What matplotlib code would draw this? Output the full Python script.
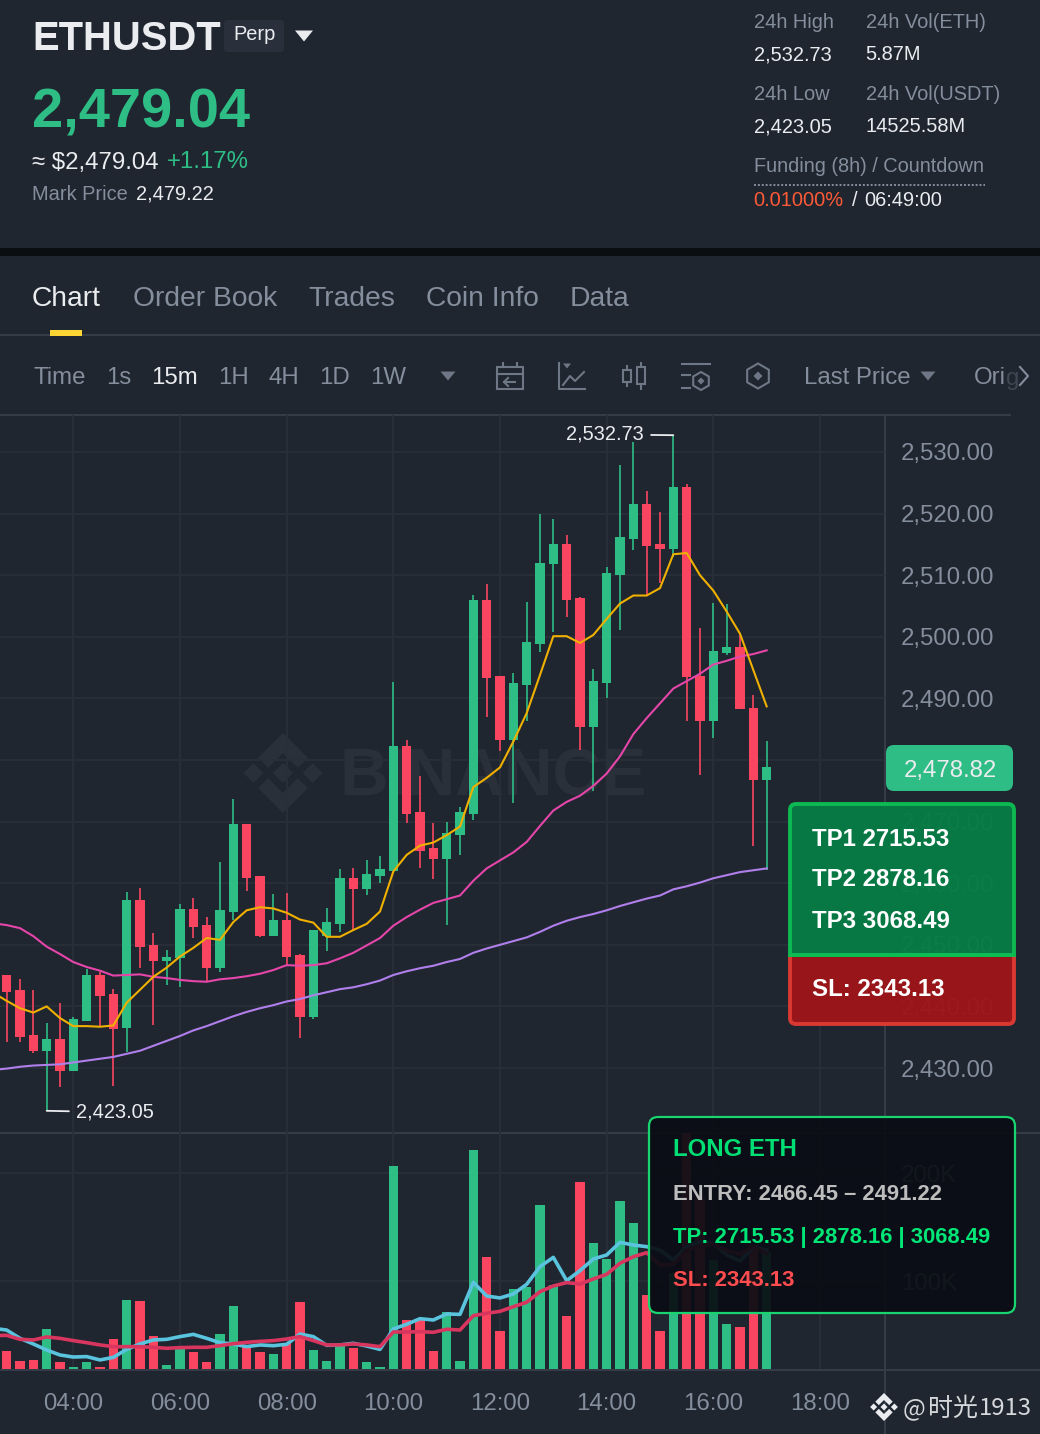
import numpy as np
import matplotlib
matplotlib.use('Agg')
import matplotlib.pyplot as plt
from matplotlib.patches import FancyBboxPatch, Polygon, Rectangle, RegularPolygon

plt.rcParams['font.family'] = ['Liberation Sans', 'DejaVu Sans']

BG = '#1F2630'
GRID = '#282F39'
EDGE = '#363D48'
GREY = '#848E9C'
WHITE = '#EAECEF'
UP = '#2EBD85'
DOWN = '#FA4560'

# 15m candles, first one is 02:45 and 04:00 is index 5
opens = [2445.1, 2442.6, 2435.4, 2432.8, 2434.7, 2429.5, 2437.7, 2445.1, 2442.0, 2436.5,
         2457.2, 2450.0, 2447.3, 2447.8, 2455.8, 2453.2, 2446.3, 2455.3, 2469.6, 2461.2,
         2451.5, 2454.0, 2448.4, 2438.3, 2451.4, 2453.4, 2460.9, 2459.1, 2461.2, 2462.0,
         2482.3, 2471.6, 2465.7, 2464.0, 2467.8, 2471.2, 2506.0, 2493.6, 2483.2, 2492.2,
         2498.8, 2511.8, 2515.0, 2506.3, 2485.3, 2492.5, 2510.1, 2515.9, 2521.6, 2515.1,
         2514.3, 2524.3, 2493.7, 2486.4, 2497.4, 2498.3, 2488.4, 2476.8]
highs = [2445.1, 2444.4, 2442.7, 2437.3, 2440.6, 2438.2, 2446.0, 2445.6, 2442.8, 2458.5,
         2459.2, 2451.9, 2449.2, 2456.6, 2457.6, 2454.5, 2463.4, 2473.7, 2469.6, 2461.2,
         2458.2, 2458.4, 2448.5, 2452.4, 2455.9, 2462.3, 2462.4, 2463.8, 2464.4, 2492.7,
         2483.2, 2477.4, 2469.7, 2469.9, 2472.3, 2506.8, 2508.6, 2493.6, 2494.1, 2505.7,
         2519.9, 2519.1, 2516.5, 2506.5, 2494.7, 2511.3, 2527.9, 2531.6, 2523.7, 2520.2,
         2532.73, 2524.8, 2501.4, 2505.5, 2505.4, 2500.3, 2490.5, 2483.1]
lows = [2434.2, 2434.3, 2432.4, 2423.05, 2426.9, 2429.5, 2437.7, 2436.7, 2427.1, 2432.6,
        2446.2, 2437.0, 2443.5, 2443.1, 2451.1, 2444.0, 2445.6, 2454.0, 2458.8, 2451.2,
        2451.5, 2446.7, 2434.9, 2437.9, 2449.0, 2452.1, 2452.4, 2458.1, 2460.1, 2462.0,
        2469.7, 2462.4, 2460.7, 2453.2, 2464.5, 2470.3, 2487.0, 2481.5, 2473.0, 2486.4,
        2497.6, 2500.8, 2503.2, 2481.7, 2474.9, 2490.0, 2501.1, 2514.1, 2506.8, 2508.8,
        2513.0, 2486.4, 2477.6, 2483.5, 2497.0, 2488.2, 2466.1, 2462.1]
closes = [2442.3, 2435.0, 2432.8, 2434.7, 2429.5, 2438.0, 2445.1, 2441.7, 2436.4, 2457.2,
          2449.6, 2447.3, 2448.1, 2455.8, 2452.9, 2446.3, 2455.6, 2469.6, 2460.9, 2451.5,
          2454.0, 2448.1, 2438.3, 2452.4, 2453.7, 2460.9, 2459.1, 2461.5, 2462.3, 2482.3,
          2471.2, 2465.3, 2464.0, 2468.1, 2471.6, 2506.0, 2493.3, 2483.2, 2492.5, 2499.2,
          2512.0, 2515.0, 2506.0, 2485.3, 2492.8, 2510.4, 2516.2, 2521.6, 2514.7, 2514.3,
          2524.3, 2493.4, 2486.4, 2497.7, 2498.3, 2488.2, 2476.8, 2478.9]

# moving averages start one candle earlier (off the left edge)
ma7 = [2442.2, 2440.9, 2439.7, 2439.0, 2440.0, 2438.1, 2436.8, 2436.8, 2436.7, 2436.9, 2440.6,
       2442.7, 2444.8, 2446.3, 2448.1, 2449.5, 2451.1, 2450.8, 2453.7, 2455.6, 2456.1,
       2455.9, 2455.2, 2454.1, 2453.6, 2451.3, 2451.3, 2452.4, 2453.4, 2455.4, 2461.9,
       2464.6, 2466.1, 2466.6, 2467.8, 2469.2, 2475.6, 2477.1, 2478.8, 2483.0, 2487.6,
       2493.8, 2500.1, 2500.1, 2499.0, 2500.3, 2502.9, 2505.4, 2506.7, 2506.7, 2507.9,
       2513.4, 2513.6, 2510.0, 2507.5, 2504.1, 2500.5, 2494.6, 2488.7]
ma25 = [2453.5, 2453.2, 2452.7, 2451.4, 2449.7, 2448.5, 2447.2, 2446.4, 2445.8, 2445.0, 2445.1,
        2445.2, 2444.8, 2444.6, 2444.3, 2444.1, 2444.0, 2444.4, 2444.6, 2444.9, 2445.3,
        2445.9, 2446.7, 2446.6, 2446.7, 2447.0, 2447.8, 2448.7, 2449.9, 2451.1, 2453.1,
        2454.5, 2455.7, 2456.8, 2457.4, 2458.0, 2460.4, 2462.4, 2463.7, 2465.0, 2466.7,
        2469.3, 2471.8, 2473.2, 2474.2, 2475.8, 2477.8, 2480.6, 2484.2, 2486.8, 2489.2,
        2491.6, 2492.8, 2494.0, 2495.5, 2496.1, 2496.8, 2497.2, 2497.8]
ma99 = [2429.7, 2429.9, 2430.2, 2430.4, 2430.5, 2430.6, 2430.9, 2431.2, 2431.5, 2431.8, 2432.3,
        2432.8, 2433.6, 2434.4, 2435.2, 2436.1, 2436.8, 2437.6, 2438.4, 2439.1, 2439.7,
        2440.2, 2440.8, 2441.2, 2441.8, 2442.3, 2442.8, 2443.1, 2443.6, 2444.2, 2445.1,
        2445.7, 2446.2, 2446.6, 2447.2, 2447.7, 2448.7, 2449.4, 2450.0, 2450.6, 2451.2,
        2452.1, 2453.1, 2453.9, 2454.5, 2455.0, 2455.6, 2456.3, 2456.9, 2457.5, 2458.0,
        2459.0, 2459.5, 2460.1, 2460.8, 2461.3, 2461.8, 2462.1, 2462.4]

# volume in thousands
volumes = [35.5, 25.6, 26.5, 55.2, 25.3, 20.4, 25.3, 20.4, 46.3, 82.1,
           81.8, 49.1, 22.2, 37.7, 34.3, 24.7, 50.9, 77.2, 40.7, 34.6,
           32.7, 42.3, 80.9, 36.1, 25.9, 40.7, 38.3, 25.3, 20.4, 206.8,
           63.9, 63.9, 35.5, 71.6, 26.2, 221.3, 122.5, 53.7, 92.3, 94.7,
           170.4, 96.3, 67.6, 191.4, 134.9, 120.4, 174.4, 153.7, 87.0, 53.7,
           107.1, 236.8, 176.6, 119.4, 59.9, 57.1, 133.3, 127.1]
vol_ma5 = [56.2, 54.6, 46.9, 41.7, 36.1, 31.5, 29.6, 30.0, 26.9, 29.3, 36.7,
           41.7, 45.4, 46.0, 48.5, 50.6, 46.9, 42.9, 41.7, 39.2, 40.8,
           40.1, 41.4, 50.9, 48.5, 40.4, 40.8, 42.3, 39.8, 36.7, 55.6,
           59.9, 65.1, 63.9, 69.5, 69.1, 98.8, 86.1, 84.3, 88.0, 96.9,
           113.3, 121.9, 100.3, 109.6, 120.4, 124.1, 135.8, 133.3, 131.8, 128.7,
           119.4, 131.8, 136.4, 134.9, 124.1, 118.5, 131.2, 128.7]
vol_ma10 = [49.4, 49.7, 46.0, 45.4, 48.2, 46.9, 44.8, 42.9, 40.8, 39.2, 39.2,
            39.2, 38.6, 37.7, 38.3, 38.6, 38.6, 40.1, 42.0, 43.2, 44.1,
            44.8, 46.3, 48.5, 44.8, 40.8, 40.8, 41.7, 40.8, 39.2, 52.8,
            52.8, 53.1, 52.5, 55.3, 54.6, 67.9, 70.1, 71.9, 76.2, 80.3,
            90.1, 95.4, 98.5, 97.2, 101.9, 106.2, 116.4, 122.5, 126.2, 114.8,
            115.4, 128.7, 132.4, 134.0, 128.1, 125.0, 131.8, 125.6]

price_ticks = [2530, 2520, 2510, 2500, 2490, 2480, 2470, 2460, 2450, 2440, 2430]
vol_ticks = [100, 200]
time_pos = [5, 13, 21, 29, 37, 45, 53, 61]
time_labels = ['04:00', '06:00', '08:00', '10:00', '12:00', '14:00', '16:00', '18:00']
tabs = [('Chart', 32, WHITE), ('Order Book', 133, GREY), ('Trades', 308, GREY),
        ('Coin Info', 426, GREY), ('Data', 570, GREY)]
intervals = [('Time', 34, GREY), ('1s', 107, GREY), ('15m', 152, WHITE), ('1H', 219, GREY),
             ('4H', 269, GREY), ('1D', 320, GREY), ('1W', 371, GREY)]

W, H = 1040, 1434
fig = plt.figure(figsize=(W / 100, H / 100), dpi=100, facecolor=BG)


def pixel_axes(z):
    a = fig.add_axes([0, 0, 1, 1], zorder=z)
    a.set_xlim(0, W)
    a.set_ylim(H, 0)
    a.axis('off')
    return a


def box(px0, py0, px1, py1):
    return [px0 / W, 1 - py1 / H, (px1 - px0) / W, (py1 - py0) / H]


def fs(px):
    return px * 0.72


def txt(a, x, y, s, size, color, **kw):
    kw.setdefault('va', 'center_baseline')
    return a.text(x, y, s, fontsize=fs(size), color=color, **kw)


def logo(a, cx, cy, r, color, alpha=1.0):
    shapes = [
        [(0, -1), (.62, -.38), (.37, -.13), (0, -.5), (-.37, -.13), (-.62, -.38)],
        [(0, 1), (.62, .38), (.37, .13), (0, .5), (-.37, .13), (-.62, .38)],
        [(0, -.25), (.25, 0), (0, .25), (-.25, 0)],
        [(-.74, -.25), (-.49, 0), (-.74, .25), (-.99, 0)],
        [(.74, -.25), (.99, 0), (.74, .25), (.49, 0)],
    ]
    for s in shapes:
        a.add_patch(Polygon([(cx + r * p, cy + r * q) for p, q in s], closed=True,
                            fc=color, ec='none', alpha=alpha))


def tri(a, cx, cy, w, h, color):
    a.add_patch(Polygon([(cx - w / 2, cy - h / 2), (cx + w / 2, cy - h / 2), (cx, cy + h / 2)],
                        closed=True, fc=color, ec='none'))


# background layer: header and watermark
bg = pixel_axes(0)
txt(bg, 32, 35, 'ETHUSDT', 40, WHITE, fontweight='bold')
bg.add_patch(FancyBboxPatch((224, 20), 60, 32, boxstyle='round,pad=0,rounding_size=4',
                            fc='#2A303B', ec='none'))
txt(bg, 233, 33, 'Perp', 20, WHITE)
tri(bg, 304, 36, 18, 11, WHITE)
txt(bg, 32, 108, '2,479.04', 56, UP, fontweight='bold')
txt(bg, 32, 160, '≈ $2,479.04', 24, WHITE)
txt(bg, 167, 160, '+1.17%', 24, UP)
txt(bg, 32, 193, 'Mark Price', 20, GREY)
txt(bg, 136, 192.5, '2,479.22', 20, WHITE)

txt(bg, 754, 21, '24h High', 20, GREY)
txt(bg, 866, 21, '24h Vol(ETH)', 20, GREY)
txt(bg, 754, 53, '2,532.73', 20, WHITE)
txt(bg, 865.5, 53, '5.87M', 20, WHITE)
txt(bg, 754, 92.5, '24h Low', 20, GREY)
txt(bg, 866, 92.5, '24h Vol(USDT)', 20, GREY)
txt(bg, 754, 125, '2,423.05', 20, WHITE)
txt(bg, 865.5, 125, '14525.58M', 20, WHITE)
txt(bg, 754, 165, 'Funding (8h) / Countdown', 20, GREY)
bg.plot([754, 985], [185, 185], color=GREY, lw=1.4, ls=(0, (1, 1)))
txt(bg, 753.5, 199, '0.01000%', 20, '#FF5A36')
txt(bg, 852, 199, '/', 20, WHITE)
txt(bg, 864.5, 199, '06:49:00', 20, WHITE)

bg.add_patch(Rectangle((0, 248), W, 8, fc='#0B0E11', ec='none'))
for s, x, c in tabs:
    txt(bg, x, 296, s, 28.3, c)
bg.plot([0, W], [335, 335], color=EDGE, lw=1.4)
bg.add_patch(Rectangle((50, 330), 32, 6, fc='#FCD535', ec='none', zorder=3))

for s, x, c in intervals:
    txt(bg, x - 0.5, 376, s, 24, c)
tri(bg, 448, 376, 15, 9, '#6E7785')
ic = '#6E7785'
# calendar
bg.add_patch(Rectangle((497, 367), 26, 22, fc='none', ec=ic, lw=1.5))
bg.plot([497, 523], [374, 374], color=ic, lw=1.5)
bg.plot([503, 503], [363, 367], color=ic, lw=1.5)
bg.plot([517, 517], [363, 367], color=ic, lw=1.5)
bg.plot([504, 515], [382, 382], color=ic, lw=1.5)
bg.plot([508, 504, 508], [378, 382, 386], color=ic, lw=1.5)
# line chart
bg.plot([559, 559, 585], [363, 389, 389], color=ic, lw=1.5)
bg.plot([563, 570, 575, 584], [385, 376, 381, 372], color=ic, lw=1.5)
tri(bg, 567, 366, 8, 5, ic)
# candles
bg.add_patch(Rectangle((623, 370), 8, 12, fc='none', ec=ic, lw=1.5))
bg.plot([627, 627], [366, 370], color=ic, lw=1.5)
bg.plot([627, 627], [382, 386], color=ic, lw=1.5)
bg.add_patch(Rectangle((637, 367), 8, 17, fc='none', ec=ic, lw=1.5))
bg.plot([641, 641], [363, 367], color=ic, lw=1.5)
bg.plot([641, 641], [384, 389], color=ic, lw=1.5)
# settings
bg.plot([682, 710], [364, 364], color=ic, lw=1.5)
bg.plot([682, 690], [375, 375], color=ic, lw=1.5)
bg.plot([682, 690], [388, 388], color=ic, lw=1.5)
bg.add_patch(RegularPolygon((701, 381), 6, radius=9, fc='none', ec=ic, lw=1.5))
bg.add_patch(RegularPolygon((701, 381), 4, radius=3.5, fc=ic, ec='none'))
# hexagon
bg.add_patch(RegularPolygon((758, 376), 6, radius=12.5, fc='none', ec=ic, lw=1.5))
bg.add_patch(RegularPolygon((758, 376), 4, radius=4.5, fc=ic, ec='none'))

txt(bg, 804.5, 376, 'Last Price', 24, GREY)
tri(bg, 928, 376, 15, 9, '#6E7785')
txt(bg, 974, 376, 'Ori', 24, GREY)
txt(bg, 1006, 376, 'g', 24, '#3E4652')
bg.plot([1020, 1028, 1020], [367, 376, 385], color=GREY, lw=1.5)

bg.plot([0, 1010], [415, 415], color=EDGE, lw=1.4)
bg.plot([0, W], [1133, 1133], color=EDGE, lw=1.4)
bg.plot([0, W], [1369.5, 1369.5], color=EDGE, lw=1.4)
bg.plot([885, 885], [415, H], color=EDGE, lw=1.4)

# watermark sits under the price panel
wm = '#2A303A'
logo(bg, 283, 773, 40, wm)
txt(bg, 339, 772, 'BINANCE', 67.5, wm, fontweight='bold')

idx = np.arange(len(closes))
ma_idx = np.arange(-1, len(closes))
o = np.array(opens)
c = np.array(closes)
colors = [UP if b >= a else DOWN for a, b in zip(opens, closes)]
xlim = (-0.5, -0.5 + 885 / (40 / 3))

# price panel
ax = fig.add_axes(box(0, 415, 885, 1133), zorder=1)
ax.patch.set_alpha(0)
ax.vlines(idx, lows, highs, colors=colors, lw=1.2, zorder=3)
ax.bar(idx, np.abs(c - o), bottom=np.minimum(o, c), width=0.7, color=colors, zorder=3)
ax.plot(ma_idx, ma99, color='#B17FEC', lw=1.5, zorder=4)
ax.plot(ma_idx, ma25, color='#E645AA', lw=1.5, zorder=4)
ax.plot(ma_idx, ma7, color='#F0B000', lw=1.5, zorder=4)
ax.set_xlim(xlim)
ax.set_ylim(2530 - (1133 - 452) / 6.16, 2530 + (452 - 415) / 6.16)
ax.set_xticks(time_pos)
ax.set_xticklabels([])
ax.set_yticks(price_ticks)
ax.set_yticklabels([f'{p:,.2f}' for p in price_ticks])
ax.yaxis.tick_right()
ax.tick_params(axis='both', length=0)
ax.tick_params(axis='y', labelsize=fs(24), labelcolor=GREY, pad=11.4)
for lb in ax.get_yticklabels():
    lb.set_y(lb.get_position()[1])
ax.grid(True, color=GRID, lw=1.3, zorder=0)
ax.set_axisbelow(True)
for sp in ax.spines.values():
    sp.set_visible(False)

hi_i = int(np.argmax(highs))
lo_i = int(np.argmin(lows))
ax.annotate(f'{highs[hi_i]:,.2f}', xy=(hi_i, highs[hi_i]), xytext=(-21, 0.5), textcoords='offset points',
            ha='right', va='center', fontsize=fs(20), color=WHITE,
            arrowprops=dict(arrowstyle='-', color=WHITE, lw=1.3, shrinkA=3, shrinkB=0))
ax.annotate(f'{lows[lo_i]:,.2f}', xy=(lo_i, lows[lo_i]), xytext=(21, -1), textcoords='offset points',
            ha='left', va='center', fontsize=fs(20), color=WHITE,
            arrowprops=dict(arrowstyle='-', color=WHITE, lw=1.3, shrinkA=3, shrinkB=0))

# volume panel
vx = fig.add_axes(box(0, 1133, 885, 1369), zorder=1)
vx.patch.set_alpha(0)
vx.bar(idx, volumes, width=0.7, color=colors, zorder=3)
vx.plot(ma_idx, vol_ma5, color='#5AC3DE', lw=2.6, zorder=4)
vx.plot(ma_idx, vol_ma10, color='#D8355F', lw=2.6, zorder=5)
vx.set_xlim(xlim)
vx.set_ylim((1389 - 1369) / 1.08, (1389 - 1133) / 1.08)
vx.set_xticks(time_pos)
vx.set_xticklabels(time_labels)
vx.set_yticks(vol_ticks)
vx.set_yticklabels([f'{v}K' for v in vol_ticks])
vx.yaxis.tick_right()
vx.tick_params(axis='both', length=0)
vx.tick_params(axis='y', labelsize=fs(24), labelcolor=GREY, pad=11.4)
vx.tick_params(axis='x', labelsize=fs(24), labelcolor=GREY, pad=17.5)
vx.grid(True, color=GRID, lw=1.3, zorder=0)
vx.set_axisbelow(True)
for sp in vx.spines.values():
    sp.set_visible(False)

# overlays on top of everything
top = pixel_axes(5)
top.add_patch(FancyBboxPatch((886, 745), 127, 46, boxstyle='round,pad=0,rounding_size=8',
                             fc=UP, ec='none'))
txt(top, 950, 768, '2,478.82', 24, WHITE, ha='center')

red_clip = Rectangle((780, 955), 250, 80, transform=top.transData)
green_clip = Rectangle((780, 795), 250, 162, transform=top.transData)
sl_box = FancyBboxPatch((790, 930), 224, 94, boxstyle='round,pad=0,rounding_size=6',
                        fc='#9E1518', ec='#E03A34', lw=2.8, alpha=0.96)
top.add_patch(sl_box)
sl_box.set_clip_path(red_clip)
tp_box = FancyBboxPatch((790, 804), 224, 176, boxstyle='round,pad=0,rounding_size=6',
                        fc='#067C44', ec='#0DBE53', lw=2.8, alpha=0.96)
top.add_patch(tp_box)
tp_box.set_clip_path(green_clip)
top.plot([790, 1014], [955, 955], color='#0DBE53', lw=2.8, solid_capstyle='butt')
txt(top, 812, 837.5, 'TP1 2715.53', 24, 'white', fontweight='bold')
txt(top, 812, 877.5, 'TP2 2878.16', 24, 'white', fontweight='bold')
txt(top, 812, 919.5, 'TP3 3068.49', 24, 'white', fontweight='bold')
txt(top, 812, 987.5, 'SL: 2343.13', 24, 'white', fontweight='bold')

top.add_patch(FancyBboxPatch((649, 1117), 366, 196, boxstyle='round,pad=0,rounding_size=9',
                             fc=(0.04, 0.05, 0.08, 0.93), ec='#18D56F', lw=1.6))
txt(top, 673, 1147.5, 'LONG ETH', 24, '#00DF74', fontweight='bold')
txt(top, 673, 1191.5, 'ENTRY: 2466.45 – 2491.22', 22, '#BDBDBD', fontweight='bold')
txt(top, 673, 1234.5, 'TP: 2715.53 | 2878.16 | 3068.49', 22, '#00E676', fontweight='bold')
txt(top, 673, 1278.5, 'SL: 2343.13', 22, '#FF4D4F', fontweight='bold')

logo(top, 884, 1407, 14, '#EAECEF')
txt(top, 903, 1406, '@ ', 24, '#D5D7DA', family=['Noto Sans CJK SC', 'DejaVu Sans'])
txt(top, 928, 1406, '时光', 25, '#D5D7DA', family=['Noto Sans CJK SC', 'DejaVu Sans'])
txt(top, 979, 1406, '1913', 24, '#D5D7DA', family=['Noto Sans CJK SC', 'DejaVu Sans'])

fig.savefig('out.png', dpi=100, facecolor=BG)
